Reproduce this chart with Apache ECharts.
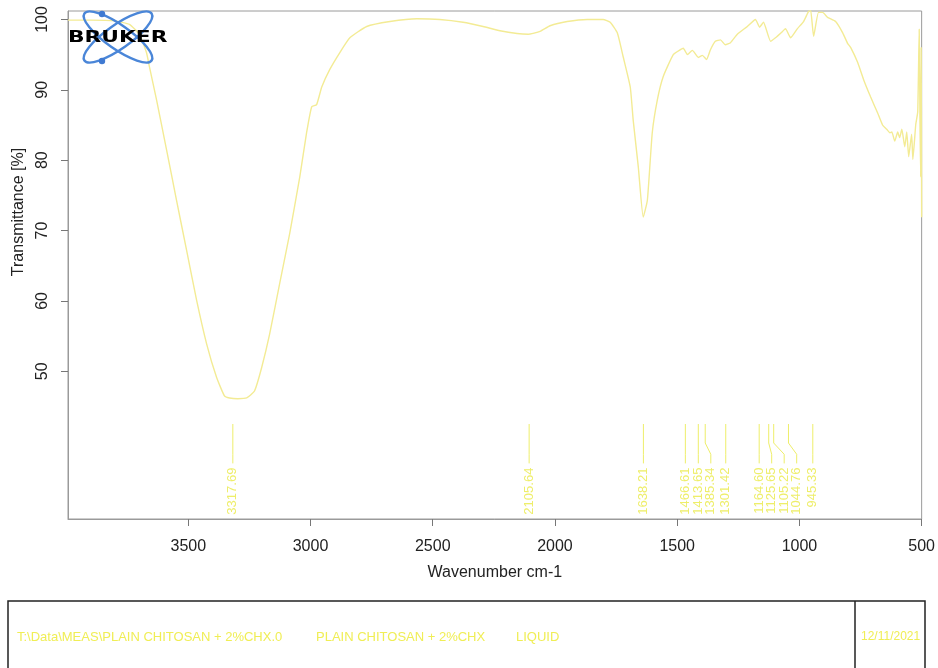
<!DOCTYPE html>
<html>
<head>
<meta charset="utf-8">
<title>FTIR spectrum</title>
<script src="https://cdn.jsdelivr.net/npm/echarts@6/dist/echarts.min.js"></script>
<style>
  html, body { margin: 0; padding: 0; background: #fff; }
  #main { width: 938px; height: 668px; }
</style>
</head>
<body>
<div id="main"></div>
<script>
// spectrum (cm-1 / %T)
var wavenumber = [
  3992, 3900, 3800, 3741, 3700, 3671, 3659, 3630, 3589, 3548,
  3507, 3466, 3425, 3384, 3352, 3331, 3298, 3261, 3229, 3200,
  3167, 3126, 3085, 3044, 3016, 2995, 2975, 2954, 2921, 2880,
  2839, 2770, 2675, 2565, 2471, 2376, 2294, 2225, 2155, 2110,
  2061, 2020, 1950, 1868, 1803, 1774, 1745, 1721, 1692, 1680,
  1659, 1639, 1622, 1602, 1581, 1557, 1516, 1487, 1475, 1458,
  1438, 1413, 1397, 1380, 1364, 1344, 1323, 1303, 1282, 1254,
  1213, 1180, 1163, 1147, 1118, 1098, 1069, 1057, 1036, 1008,
  983, 963, 954, 942, 922, 905, 885, 852, 823, 803,
  790, 762, 737, 709, 680, 660, 643, 630, 622, 610,
  598, 590, 581, 569, 561, 553, 541, 536, 524, 516,
  510, 507, 504, 502, 500
];
var transmittance = [
  99.9, 99.9, 99.8, 99.3, 97.9, 95.3, 93.3, 88.6, 81.5, 74.3,
  67.2, 60.1, 53.9, 49.1, 46.5, 46.2, 46.1, 46.2, 47.2, 50.5,
  55.3, 62.5, 69.6, 77.6, 83.9, 87.6, 87.9, 90.4, 92.9, 95.3,
  97.4, 99.0, 99.7, 100.1, 100.0, 99.6, 99.0, 98.4, 98.0, 97.9,
  98.3, 99.1, 99.7, 100.0, 100.0, 99.6, 98.1, 94.7, 90.4, 85.7,
  79.0, 71.9, 74.3, 83.9, 88.6, 91.9, 95.0, 95.7, 95.9, 95.0,
  95.6, 94.6, 94.9, 94.3, 95.7, 96.9, 97.1, 96.4, 96.7, 97.9,
  99.0, 100.0, 98.9, 99.6, 96.9, 97.4, 98.3, 98.7, 97.4, 98.7,
  99.7, 101.1, 101.3, 97.6, 101.0, 101.0, 100.3, 99.7, 98.1, 96.6,
  96.0, 93.9, 91.4, 89.0, 86.7, 85.0, 84.4, 83.9, 84.0, 82.7,
  84.0, 83.2, 84.4, 81.9, 84.0, 80.5, 83.7, 80.1, 85.1, 86.9,
  98.6, 86.0, 77.6, 96.0, 71.9
];
// picked peaks
var peakWn = [3317.69, 2105.64, 1638.21, 1466.61, 1413.65, 1385.34, 1301.42, 1164.60, 1125.65, 1105.22, 1044.76, 945.33];
var xTicks = [3500, 3000, 2500, 2000, 1500, 1000, 500];
var yTicks = [50, 60, 70, 80, 90, 100];
var infoTexts = ['T:\\Data\\MEAS\\PLAIN CHITOSAN + 2%CHX.0', 'PLAIN CHITOSAN + 2%CHX', 'LIQUID', '12/11/2021'];

var FONT = '"Liberation Sans", Arial, sans-serif';
var lineColor = '#f3eb94';
var peakColor = '#eeee6a';

function drawChart() {
  var chart = echarts.init(document.getElementById('main'));
  var spectrum = [];
  for (var i = 0; i < wavenumber.length; i++) {
    spectrum.push([wavenumber[i], transmittance[i]]);
  }
  var peakData = peakWn.map(function (w) { return [w, 40]; });

  // peak marker: short line, kinked when labels crowd, value rotated underneath
  function renderPeak(params, api) {
    var idx = params.dataIndex;
    var xs = peakWn.map(function (w) { return api.coord([w, 40])[0]; });
    var lx = [xs[0]];
    for (var k = 1; k < xs.length; k++) {
      lx.push(Math.max(xs[k], lx[k - 1] + 12.5));
    }
    var x0 = xs[idx], xl = lx[idx];
    var yTop = api.coord([0, 42.5])[1];
    var yB1 = api.coord([0, 39.8])[1];
    var yB2 = api.coord([0, 38.2])[1];
    var yBot = api.coord([0, 36.9])[1];
    var yTxt = api.coord([0, 36.3])[1];
    return {
      type: 'group',
      children: [{
        type: 'polyline',
        shape: { points: [[x0, yTop], [x0, yB1], [xl, yB2], [xl, yBot]] },
        style: { stroke: peakColor, lineWidth: 1, fill: null }
      }, {
        type: 'text',
        x: xl,
        y: yTxt,
        rotation: Math.PI / 2,
        style: {
          text: peakWn[idx].toFixed(2),
          align: 'right', textAlign: 'right',
          verticalAlign: 'middle', textVerticalAlign: 'middle',
          fill: peakColor,
          font: '13px ' + FONT
        }
      }]
    };
  }

  var option = {
    backgroundColor: '#fff',
    animation: false,
    grid: { left: 68, right: 16, top: 11, bottom: 149, show: true, borderColor: '#9a9a9a', borderWidth: 1 },
    xAxis: {
      type: 'value', inverse: true, min: 500, max: 3992,
      name: 'Wavenumber cm-1', nameLocation: 'middle', nameGap: 46,
      nameTextStyle: { color: '#222', fontSize: 16, fontFamily: FONT },
      axisLine: { show: true, lineStyle: { color: '#9a9a9a' } },
      axisTick: { show: true, length: 7, lineStyle: { color: '#777' }, customValues: xTicks },
      axisLabel: { color: '#222', fontSize: 16, fontFamily: FONT, margin: 20, customValues: xTicks,
        formatter: function (v) { return String(v); } },
      splitLine: { show: false }
    },
    yAxis: {
      type: 'value', min: 29, max: 101.2,
      name: 'Transmittance [%]', nameLocation: 'middle', nameGap: 41,
      nameTextStyle: { color: '#222', fontSize: 16, fontFamily: FONT, padding: [0, 0, 0, 106] },
      axisLine: { show: true, lineStyle: { color: '#9a9a9a' } },
      axisTick: { show: true, length: 7, lineStyle: { color: '#777' }, customValues: yTicks },
      axisLabel: { color: '#222', fontSize: 16, fontFamily: FONT, rotate: 90, margin: 17, customValues: yTicks },
      splitLine: { show: false }
    },
    series: [{
      type: 'line',
      data: spectrum,
      showSymbol: false,
      smooth: 0.15,
      clip: true,
      lineStyle: { color: lineColor, width: 1.4 },
      z: 2
    }, {
      type: 'custom',
      data: peakData,
      renderItem: renderPeak,
      silent: true,
      z: 3
    }],
    graphic: [
      // logo
      { type: 'ellipse', x: 118, y: 37, rotation: 0.61, shape: { cx: 0, cy: 0, rx: 41, ry: 12 },
        style: { fill: null, stroke: '#4a86d8', lineWidth: 2.4 }, z: 10 },
      { type: 'ellipse', x: 118, y: 37, rotation: -0.61, shape: { cx: 0, cy: 0, rx: 41, ry: 12 },
        style: { fill: null, stroke: '#4a86d8', lineWidth: 2.4 }, z: 10 },
      { type: 'circle', shape: { cx: 102, cy: 14, r: 3.2 }, style: { fill: '#3f7ad2' }, z: 11 },
      { type: 'circle', shape: { cx: 102, cy: 61, r: 3.2 }, style: { fill: '#3f7ad2' }, z: 11 },
      { type: 'text', x: 68, y: 38, scaleX: 1.36, z: 12,
        style: { text: 'BRUKER', fill: '#000', font: 'bold 16px "DejaVu Sans", sans-serif', verticalAlign: 'middle', textVerticalAlign: 'middle' } },
      // info box
      { type: 'rect', shape: { x: 8, y: 601, width: 917, height: 90 },
        style: { fill: null, stroke: '#222', lineWidth: 1.5 } },
      { type: 'line', shape: { x1: 855, y1: 601, x2: 855, y2: 668 },
        style: { stroke: '#222', lineWidth: 1.5 } },
      { type: 'text', x: 17, y: 637, style: { text: infoTexts[0], fill: '#f0ee55', font: '13px ' + FONT, verticalAlign: 'middle', textVerticalAlign: 'middle' } },
      { type: 'text', x: 316, y: 637, style: { text: infoTexts[1], fill: '#f0ee55', font: '13px ' + FONT, verticalAlign: 'middle', textVerticalAlign: 'middle' } },
      { type: 'text', x: 516, y: 637, style: { text: infoTexts[2], fill: '#f0ee55', font: '13px ' + FONT, verticalAlign: 'middle', textVerticalAlign: 'middle' } },
      { type: 'text', x: 861, y: 637, style: { text: infoTexts[3], fill: '#f0ee55', font: '12px ' + FONT, verticalAlign: 'middle', textVerticalAlign: 'middle' } }
    ]
  };
  chart.setOption(option);
}
drawChart();
</script>
</body>
</html>
